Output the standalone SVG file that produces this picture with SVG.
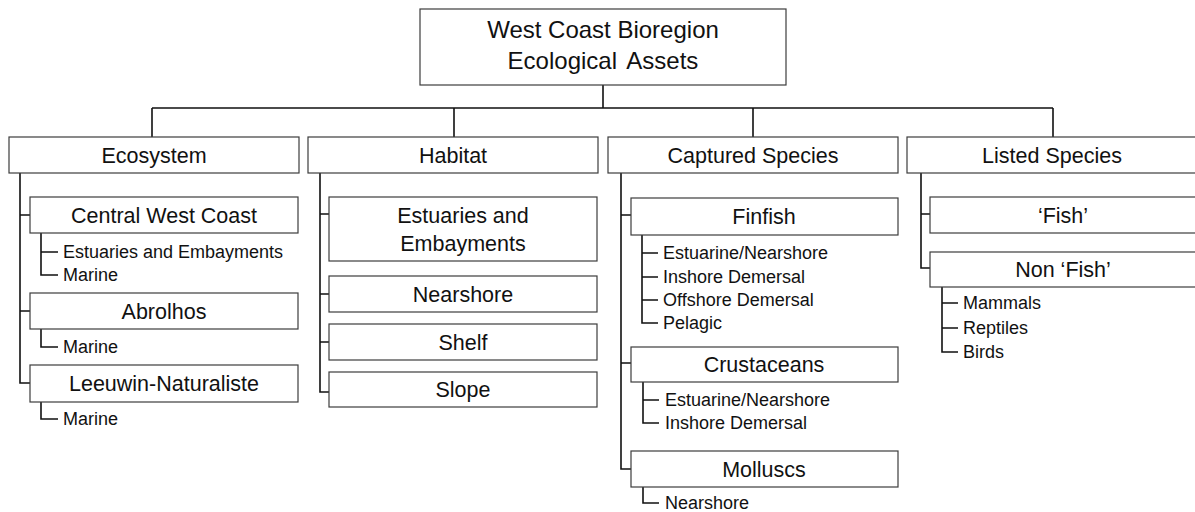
<svg xmlns="http://www.w3.org/2000/svg" width="1195" height="512" viewBox="0 0 1195 512">
<style>
.box{fill:#fff;stroke:#3c3c3c;stroke-width:1.2}
.t{font-family:"Liberation Sans",Arial,sans-serif;fill:#111}
.bt{font-size:21.5px;text-anchor:middle}
.tt{font-size:24px;text-anchor:middle}
.st{font-size:18px}
.c{fill:none;stroke:#111;stroke-width:1.6}
</style>
<rect width="1195" height="512" fill="#fff"/>
<g id="connectors" class="c">
<path d="M603 85V108M152 108H1053M152 108V137M454 108V137M753 108V137M1053 108V137"/>
<path d="M20 173V383H30M20 215H30M20 311H30"/>
<path d="M41 233V275H58M41 252H58M41 329V347H58M41 402V419H58"/>
<path d="M320 173V392H329M320 214H329M320 294H329M320 342H329"/>
<path d="M621 173V469H631M621 215H631M621 363H631"/>
<path d="M642 235V323H658M642 253H658M642 277H658M642 300H658"/>
<path d="M643 382V423H659M643 400H659M643 487V503H659"/>
<path d="M921 173V268H930M921 214H930"/>
<path d="M942 287V352H958M942 303H958M942 328H958"/>
</g>
<g id="root">
<rect class="box" x="420" y="9" width="366" height="76"/>
<text class="t tt" x="603" y="38">West Coast Bioregion</text>
<text class="t tt" x="603" y="69" word-spacing="4">Ecological Assets</text>
</g>
<g id="ecosystem">
<rect class="box" x="9" y="137" width="290" height="36"/>
<text class="t bt" x="154" y="162.5">Ecosystem</text>
</g>
<g id="habitat">
<rect class="box" x="308" y="137" width="290" height="36"/>
<text class="t bt" x="453" y="162.5">Habitat</text>
</g>
<g id="captured">
<rect class="box" x="608" y="137" width="290" height="36"/>
<text class="t bt" x="753" y="162.5">Captured Species</text>
</g>
<g id="listed">
<rect class="box" x="907" y="137" width="290" height="36"/>
<text class="t bt" x="1052" y="162.5">Listed Species</text>
</g>
<g id="central-west-coast">
<rect class="box" x="30" y="197" width="268" height="36"/>
<text class="t bt" x="164" y="222.5">Central West Coast</text>
<text class="t st" x="63" y="258">Estuaries and Embayments</text>
<text class="t st" x="63" y="281">Marine</text>
</g>
<g id="abrolhos">
<rect class="box" x="30" y="293" width="268" height="36"/>
<text class="t bt" x="164" y="318.5">Abrolhos</text>
<text class="t st" x="63" y="353">Marine</text>
</g>
<g id="leeuwin">
<rect class="box" x="30" y="365" width="268" height="37"/>
<text class="t bt" x="164" y="391">Leeuwin-Naturaliste</text>
<text class="t st" x="63" y="425">Marine</text>
</g>
<g id="hab-estuaries">
<rect class="box" x="329" y="197" width="268" height="64"/>
<text class="t bt" x="463" y="222.5">Estuaries and</text>
<text class="t bt" x="463" y="250.5">Embayments</text>
</g>
<g id="hab-nearshore">
<rect class="box" x="329" y="276" width="268" height="36"/>
<text class="t bt" x="463" y="301.5">Nearshore</text>
</g>
<g id="hab-shelf">
<rect class="box" x="329" y="324" width="268" height="36"/>
<text class="t bt" x="463" y="349.5">Shelf</text>
</g>
<g id="hab-slope">
<rect class="box" x="329" y="372" width="268" height="35"/>
<text class="t bt" x="463" y="397">Slope</text>
</g>
<g id="finfish">
<rect class="box" x="631" y="198" width="267" height="37"/>
<text class="t bt" x="764" y="224">Finfish</text>
<text class="t st" x="663" y="259">Estuarine/Nearshore</text>
<text class="t st" x="663" y="283">Inshore Demersal</text>
<text class="t st" x="663" y="306">Offshore Demersal</text>
<text class="t st" x="663" y="329">Pelagic</text>
</g>
<g id="crustaceans">
<rect class="box" x="631" y="347" width="267" height="35"/>
<text class="t bt" x="764" y="372">Crustaceans</text>
<text class="t st" x="665" y="406">Estuarine/Nearshore</text>
<text class="t st" x="665" y="429">Inshore Demersal</text>
</g>
<g id="molluscs">
<rect class="box" x="631" y="451" width="267" height="36"/>
<text class="t bt" x="764" y="476.5">Molluscs</text>
<text class="t st" x="665" y="509">Nearshore</text>
</g>
<g id="fish">
<rect class="box" x="930" y="197" width="268" height="36"/>
<text class="t bt" x="1063" y="222.5">‘Fish’</text>
</g>
<g id="non-fish">
<rect class="box" x="930" y="252" width="268" height="35"/>
<text class="t bt" x="1063" y="277">Non ‘Fish’</text>
<text class="t st" x="963" y="309">Mammals</text>
<text class="t st" x="963" y="334">Reptiles</text>
<text class="t st" x="963" y="358">Birds</text>
</g>
</svg>
